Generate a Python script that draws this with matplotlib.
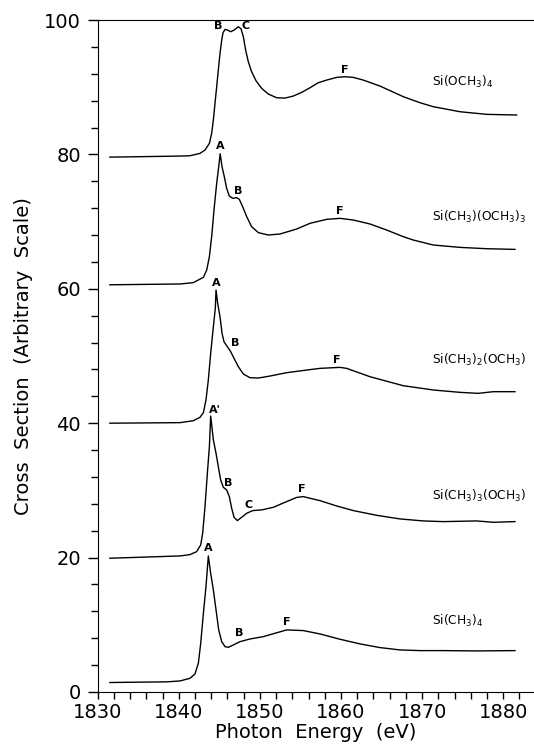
import matplotlib
matplotlib.use("Agg")
import matplotlib.pyplot as plt

# Si(OCH3)4
x1 = [1831.5, 1840.15, 1841.38, 1842.61, 1843.23, 1843.77, 1844.05, 1844.26, 1844.46, 1844.67,
      1844.87, 1845.08, 1845.29, 1845.45, 1845.70, 1846.03, 1846.40, 1846.81, 1847.34, 1847.67,
      1847.96, 1848.24, 1848.57, 1848.98, 1849.52, 1850.22, 1851.04, 1852.07, 1853.09, 1854.12,
      1855.15, 1856.18, 1857.20, 1858.23, 1859.46, 1860.49, 1861.52, 1862.75, 1864.81, 1867.68,
      1869.74, 1871.38, 1874.67, 1877.96, 1881.66]
y1 = [79.6, 79.76, 79.81, 80.16, 80.66, 81.65, 83.14, 85.12, 87.60, 90.08,
      92.56, 95.04, 97.03, 98.12, 98.61, 98.51, 98.27, 98.51, 99.01, 98.71,
      97.52, 95.54, 93.80, 92.31, 90.97, 89.83, 88.99, 88.44, 88.39, 88.69,
      89.24, 89.93, 90.68, 91.07, 91.47, 91.57, 91.47, 91.07, 90.18, 88.60,
      87.70, 87.11, 86.36, 85.97, 85.87]

# Si(CH3)(OCH3)3
x2 = [1831.5, 1840.15, 1841.79, 1843.03, 1843.44, 1843.77, 1844.05, 1844.34, 1844.67, 1844.92,
      1845.10, 1845.33, 1845.61, 1845.90, 1846.23, 1846.64, 1847.14, 1847.46, 1847.87, 1848.37,
      1848.98, 1849.81, 1851.04, 1852.48, 1854.53, 1856.18, 1858.23, 1859.87, 1861.52, 1863.57,
      1865.63, 1867.68, 1868.92, 1871.38, 1874.67, 1877.96, 1881.45]
y2 = [60.6, 60.72, 60.92, 61.71, 62.80, 64.79, 67.76, 71.73, 75.70, 78.18,
      80.10, 78.18, 76.69, 74.95, 73.81, 73.47, 73.57, 73.32, 72.23, 70.74,
      69.25, 68.36, 68.01, 68.16, 68.90, 69.75, 70.34, 70.49, 70.24, 69.65,
      68.75, 67.76, 67.26, 66.52, 66.17, 65.97, 65.87]

# Si(CH3)2(OCH3)
x3 = [1831.5, 1840.15, 1841.79, 1842.61, 1843.03, 1843.35, 1843.64, 1843.93, 1844.26, 1844.50,
      1844.59, 1844.79, 1845.08, 1845.33, 1845.57, 1845.98, 1846.40, 1846.81, 1847.34, 1847.96,
      1848.78, 1849.81, 1851.25, 1853.30, 1855.77, 1857.41, 1859.87, 1860.70, 1863.57, 1867.68,
      1871.38, 1874.67, 1876.93, 1878.78, 1881.45]
y3 = [40.0, 40.08, 40.37, 40.87, 41.56, 43.45, 46.43, 50.39, 54.36, 57.09,
      59.82, 57.83, 55.85, 53.37, 52.13, 51.39, 50.64, 49.65, 48.41, 47.32,
      46.77, 46.72, 47.02, 47.52, 47.91, 48.16, 48.31, 48.16, 46.92, 45.58,
      44.94, 44.59, 44.44, 44.69, 44.69]

# Si(CH3)3(OCH3)
x4 = [1831.5, 1840.15, 1841.38, 1842.20, 1842.70, 1842.94, 1843.23, 1843.52, 1843.77, 1843.93,
      1844.26, 1844.59, 1844.87, 1845.16, 1845.49, 1845.90, 1846.23, 1846.52, 1846.81, 1847.22,
      1847.75, 1848.37, 1849.11, 1850.22, 1851.66, 1853.30, 1854.53, 1855.35, 1857.41, 1859.46,
      1861.52, 1864.39, 1867.27, 1870.15, 1872.62, 1876.73, 1878.78, 1881.45]
y4 = [19.9, 20.24, 20.44, 20.88, 21.88, 23.61, 27.58, 32.54, 36.51, 41.07,
      37.50, 35.52, 33.53, 31.55, 30.46, 30.06, 29.07, 27.33, 25.99, 25.50,
      25.99, 26.59, 26.99, 27.09, 27.48, 28.33, 28.95, 29.07, 28.47, 27.68,
      26.99, 26.29, 25.75, 25.45, 25.35, 25.45, 25.25, 25.35]

# Si(CH3)4
x5 = [1831.5, 1838.5, 1840.15, 1841.38, 1841.99, 1842.41, 1842.70, 1843.03, 1843.35, 1843.64,
      1843.93, 1844.26, 1844.59, 1844.92, 1845.29, 1845.70, 1846.11, 1846.72, 1847.55, 1848.78,
      1850.42, 1851.86, 1853.30, 1855.35, 1857.41, 1859.87, 1862.34, 1864.80, 1867.27, 1869.74,
      1872.62, 1876.73, 1881.45]
y5 = [1.4, 1.5, 1.63, 2.03, 2.67, 4.26, 7.24, 11.70, 15.67, 20.24,
      17.65, 15.17, 12.20, 9.22, 7.48, 6.74, 6.64, 6.99, 7.48, 7.88,
      8.23, 8.73, 9.23, 9.13, 8.63, 7.84, 7.15, 6.60, 6.25, 6.15,
      6.15, 6.10, 6.15]

curves = [(x1, y1), (x2, y2), (x3, y3), (x4, y4), (x5, y5)]

names = [r"Si(OCH$_3$)$_4$", r"Si(CH$_3$)(OCH$_3$)$_3$", r"Si(CH$_3$)$_2$(OCH$_3$)",
         r"Si(CH$_3$)$_3$(OCH$_3$)", r"Si(CH$_3$)$_4$"]
name_y = [90.8, 70.7, 49.4, 29.2, 10.6]

# peak letters: (letter, x, y)
peaks = [
    ("B", 1844.8, 99.1), ("C", 1848.2, 99.1), ("F", 1860.5, 92.6),
    ("A", 1845.1, 81.3), ("B", 1847.3, 74.6), ("F", 1859.9, 71.6),
    ("A", 1844.6, 60.9), ("B", 1846.9, 51.9), ("F", 1859.5, 49.4),
    ("A'", 1844.5, 42.0), ("B", 1846.1, 31.1), ("C", 1848.6, 27.8), ("F", 1855.2, 30.2),
    ("A", 1843.6, 21.4), ("B", 1847.5, 8.7), ("F", 1853.3, 10.4),
]

fig = plt.figure(figsize=(5.34, 7.44), dpi=100)
ax = fig.add_axes([0.183, 0.07, 0.817, 0.903])

for xs, ys in curves:
    ax.plot(xs, ys, color="black", linewidth=1.0)

for name, ny in zip(names, name_y):
    ax.text(1871.2, ny, name, fontsize=8.8, ha="left", va="center")

for lab, px, py in peaks:
    ax.text(px, py, lab, fontsize=8, fontweight="bold", ha="center", va="center")

ax.set_xlim(1830, 1883.8)
ax.set_ylim(0, 100)
ax.set_xticks(range(1830, 1881, 10))
ax.set_xticks(range(1830, 1884, 2), minor=True)
ax.set_yticks(range(0, 101, 20))
ax.set_yticks(range(0, 101, 4), minor=True)
ax.tick_params(axis="both", which="major", labelsize=14, direction="out", width=1.0)
ax.tick_params(axis="y", which="major", length=7, pad=5)
ax.tick_params(axis="y", which="minor", length=5, width=1.0)
ax.tick_params(axis="x", which="major", length=5, pad=3)
ax.tick_params(axis="x", which="minor", length=5, width=1.0)
ax.spines["right"].set_visible(False)
ax.spines["top"].set_linewidth(0.8)

ax.set_xlabel("Photon  Energy  (eV)", fontsize=14, labelpad=1)
ax.set_ylabel("Cross  Section  (Arbitrary  Scale)", fontsize=14, labelpad=8)

fig.savefig("out.png", dpi=100)
